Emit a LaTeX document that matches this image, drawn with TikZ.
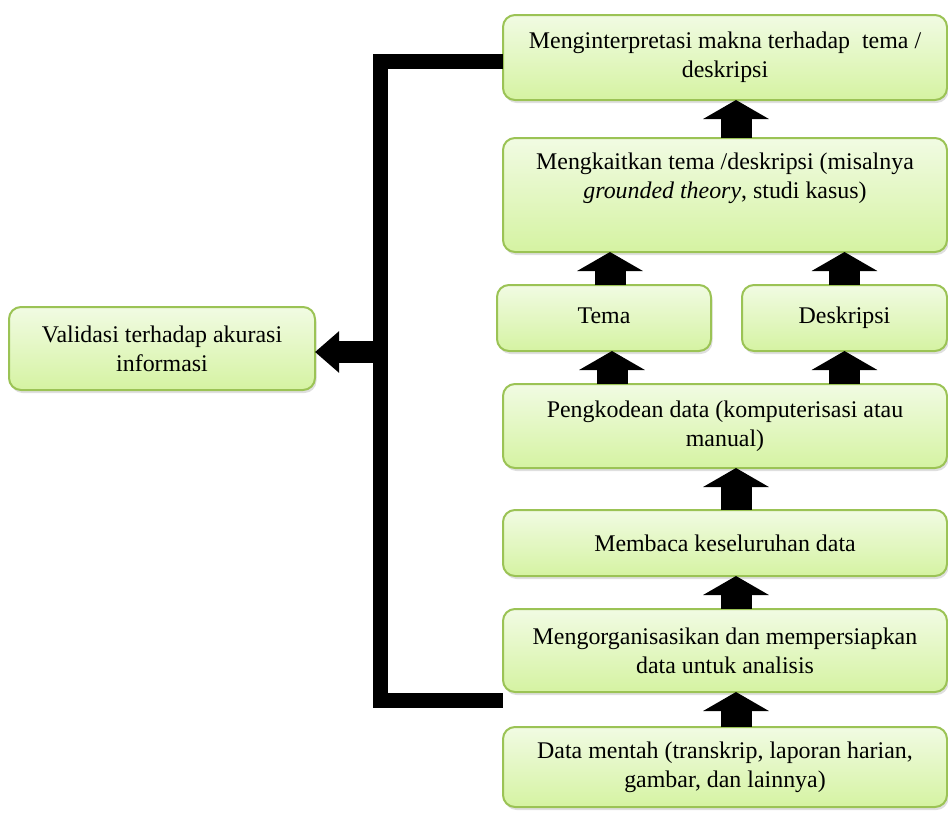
\documentclass[tikz,border=0pt]{standalone}
\usepackage{fontspec}
\setmainfont{Liberation Serif}[ItalicFont=* Italic,BoldFont=* Bold]
\usepackage{tikz}
\usetikzlibrary{arrows.meta,positioning,shadows}
\definecolor{boxtop}{RGB}{241,251,227}
\definecolor{boxbot}{RGB}{213,243,162}
\definecolor{boxline}{RGB}{155,195,85}

\begin{document}
\begin{tikzpicture}[x=1pt,y=-1pt,
        box/.style={draw=boxline,line width=2pt,rounded corners=12pt,top color=boxtop,bottom color=boxbot,
            drop shadow={shadow xshift=1.5pt,shadow yshift=-3pt,opacity=0.25},
            align=center,outer sep=0pt,inner sep=4pt,font=\fontsize{23.9}{28.8}\selectfont},
        wide/.style={box,minimum width=444pt},
        fat/.style={line width=31pt,-{Triangle[length=19pt,width=65pt]}},
        bracket/.style={line width=15pt,line join=miter}]
            \useasboundingbox (0,0) rectangle (948,814);
            \node   [wide,minimum height=80pt]                                      (data)  at (725,767) {Data mentah (transkrip, laporan harian,\\ gambar, dan lainnya)};
            \node   [wide,minimum height=83pt]      [above=35pt of data]            (org)   {Mengorganisasikan dan mempersiapkan\\ data untuk analisis};
            \node   [wide,minimum height=66pt]      [above=33pt of org]             (baca)  {Membaca keseluruhan data};
            \node   [wide,minimum height=84pt]      [above=42pt of baca]            (kode)  {Pengkodean data (komputerisasi atau\\ manual)};
            \node   [box,minimum width=214pt,minimum height=66pt,text height=17pt,text depth=7pt]
                                                    [above right=33pt and -6pt of kode.north west]  (tema)  {Tema};
            \node   [box,minimum width=205pt,minimum height=66pt,text height=17pt,text depth=7pt]
                                                    [above left=33pt and 0pt of kode.north east]    (desk)  {Deskripsi};
            \node   [wide,minimum height=114pt,text depth=38pt]
                                                    [above left=33pt and 0pt of desk.north east]    (kait)  {Mengkaitkan tema /deskripsi (misalnya\\ \textit{grounded theory}, studi kasus)};
            \node   [wide,minimum height=85pt]      [above=38pt of kait]            (makna) {Menginterpretasi makna terhadap\ \ tema /\\ deskripsi};
            \node   [box,minimum width=306pt,minimum height=83pt]                   (valid) at (162,348.5) {Validasi terhadap akurasi\\ informasi};

            \coordinate (pojok) at (380,700);
            \coordinate (cabang) at (380,352);

            \path   ([xshift=11pt]data.north) edge [fat] ([xshift=11pt]org.south)
            ([xshift=11pt]org.north) edge [fat] ([xshift=11pt]baca.south)
            ([xshift=11pt]baca.north) edge [fat] ([xshift=11pt]kode.south);

            \path   ([xshift=8pt]kode.north -| tema.south) edge [fat] ([xshift=8pt]tema.south)
            (kode.north -| desk.south) edge [fat] (desk.south);

            \path   ([xshift=6pt]tema.north) edge [fat] ([xshift=6pt]tema.north |- kait.south)
            (desk.north) edge [fat] (desk.north |- kait.south);

            \path   ([xshift=11pt]kait.north) edge [fat] ([xshift=11pt]makna.south);

            \draw   [bracket] ([yshift=-4pt]makna.west) -| (pojok) -- (org.west |- pojok);
            \draw   [line width=22pt,-{Triangle[length=24pt,width=40pt]}] (cabang) -- (valid.east |- cabang);
        \end{tikzpicture}
\end{document}
